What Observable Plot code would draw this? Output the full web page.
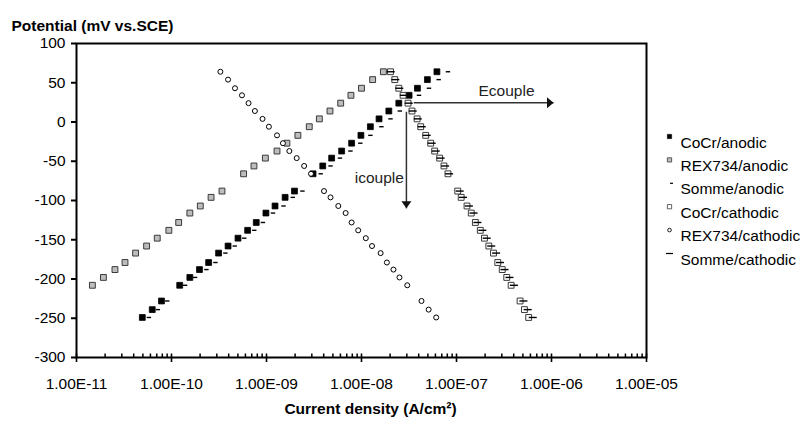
<!DOCTYPE html>
<html><head><meta charset="utf-8">
<script src="https://cdn.jsdelivr.net/npm/d3@7"></script>
<script src="https://cdn.jsdelivr.net/npm/@observablehq/plot@0.6"></script>
<style>html,body{margin:0;padding:0;background:#fff}</style>
</head><body><div id="chart"></div>
<script>
// Potentials (mV vs SCE), shared by all series (top to bottom)
const potential = [64, 54, 43, 34, 24, 14, 4, -6, -17, -27, -37, -46, -56, -66, -88, -96, -107, -116, -128, -138, -148, -158, -167, -179, -188, -198, -208, -228, -239, -249];

// Current densities (A/cm2)
const cocrAnodic = [6.22e-8, 4.94e-8, 3.88e-8, 3.17e-8, 2.47e-8, 1.94e-8, 1.53e-8, 1.24e-8, 9.86e-9, 7.87e-9, 6.18e-9, 4.85e-9, 3.91e-9, 3.09e-9, 1.97e-9, 1.57e-9, 1.23e-9, 9.86e-10, 7.80e-10, 6.33e-10, 5.01e-10, 3.94e-10, 3.13e-10, 2.46e-10, 1.97e-10, 1.56e-10, 1.22e-10, 7.85e-11, 6.27e-11, 4.93e-11];
const rexAnodic = [1.70e-8, 1.31e-8, 1.00e-8, 7.74e-9, 6.04e-9, 4.66e-9, 3.60e-9, 2.82e-9, 2.14e-9, 1.64e-9, 1.29e-9, 9.73e-10, 7.38e-10, 5.74e-10, 3.40e-10, 2.61e-10, 2.01e-10, 1.56e-10, 1.19e-10, 9.38e-11, 7.08e-11, 5.47e-11, 4.19e-11, 3.24e-11, 2.54e-11, 1.92e-11, 1.47e-11, null, null, null];
const sommeAnodic = [8.13e-8, 6.49e-8, 5.13e-8, 4.03e-8, 3.18e-8, 2.53e-8, 2.02e-8, 1.62e-8, 1.24e-8, 9.72e-9, 7.65e-9, 5.93e-9, 4.72e-9, 3.72e-9, 2.39e-9, 1.89e-9, 1.51e-9, 1.17e-9, 9.16e-10, 7.43e-10, 5.83e-10, 4.63e-10, 3.69e-10, 2.90e-10, 2.33e-10, 1.77e-10, 1.39e-10, 9.02e-11, 7.18e-11, 5.78e-11];
const cocrCathodic = [2.02e-8, 2.24e-8, 2.47e-8, 2.74e-8, 3.09e-8, 3.40e-8, 3.85e-8, 4.20e-8, 4.74e-8, 5.35e-8, 5.89e-8, 6.65e-8, 7.38e-8, 8.13e-8, 1.03e-7, 1.12e-7, 1.29e-7, 1.43e-7, 1.58e-7, 1.78e-7, 1.97e-7, 2.19e-7, 2.45e-7, 2.72e-7, 3.03e-7, 3.38e-7, 3.76e-7, 4.67e-7, 5.19e-7, 5.75e-7];
const rexCathodic = [3.27e-10, 3.94e-10, 4.66e-10, 5.52e-10, 6.47e-10, 7.55e-10, 9.08e-10, 1.06e-9, 1.29e-9, 1.49e-9, 1.74e-9, 2.08e-9, 2.49e-9, 2.94e-9, 4.03e-9, 4.72e-9, 5.70e-9, 6.81e-9, 7.87e-9, 9.23e-9, 1.11e-8, 1.29e-8, 1.59e-8, 1.85e-8, 2.17e-8, 2.51e-8, 3.03e-8, 4.28e-8, 5.09e-8, 6.11e-8];
const sommeCathodic = [2.03e-8, 2.27e-8, 2.50e-8, 2.79e-8, 3.14e-8, 3.46e-8, 3.91e-8, 4.31e-8, 4.85e-8, 5.48e-8, 6.04e-8, 6.81e-8, 7.59e-8, 8.36e-8, 1.08e-7, 1.17e-7, 1.35e-7, 1.51e-7, 1.66e-7, 1.87e-7, 2.08e-7, 2.32e-7, 2.61e-7, 2.87e-7, 3.20e-7, 3.61e-7, 4.02e-7, 5.06e-7, 5.61e-7, 6.34e-7];

const seriesNames = ["CoCr/anodic", "REX734/anodic", "Somme/anodic", "CoCr/cathodic", "REX734/cathodic", "Somme/cathodic"];

// Axes
const xTicks = [1e-11, 1e-10, 1e-9, 1e-8, 1e-7, 1e-6, 1e-5];
const xTickLabels = ["1.00E-11", "1.00E-10", "1.00E-09", "1.00E-08", "1.00E-07", "1.00E-06", "1.00E-05"];
const yTicks = [100, 50, 0, -50, -100, -150, -200, -250, -300];
const titleText = "Potential (mV vs.SCE)";
const xLabelText = "Current density (A/cm²)";

// Annotations (current, potential)
const arrowLabels = ["Ecouple", "icouple"];
const arrowStartI = [3.55e-8, 2.97e-8];
const arrowStartE = [24.4, 13];
const arrowEndI = [1.05e-6, 2.97e-8];
const arrowEndE = [24.4, -110];
const labelI = [3.36e-7, 1.54e-8];
const labelE = [39.7, -71.8];

// ---- build ----
const rows = (arr) => potential.map((E, i) => ({E, I: arr[i]})).filter(d => d.I != null);
const xMinor = xTicks.slice(0, -1).flatMap(d => [2,3,4,5,6,7,8,9].map(k => d * k));

const pathSym = (pts, close) => ({draw(ctx) {
  ctx.moveTo(pts[0][0], pts[0][1]);
  for (const p of pts.slice(1)) ctx.lineTo(p[0], p[1]);
  if (close) ctx.closePath();
}});
const dashShort = pathSym([[-2.2, 0], [2.2, 0]]);
const dashLong = pathSym([[-4, 0], [4, 0]]);
const legendDashShort = pathSym([[-1.5, 0], [1.5, 0]]);
const legendDashLong = pathSym([[-3.5, 0], [3.5, 0]]);
const headRight = pathSym([[0, 0], [-6.5, -5.5], [-6.5, 5.5]], true);
const headDown = pathSym([[0, 0], [-5, -7], [5, -7]], true);

const styles = [
  {symbol: "square", r: 3.3, fill: "#000", stroke: "#000", strokeWidth: 0.8},
  {symbol: "square", r: 3.3, fill: "#bdbdbd", stroke: "#3a3a3a", strokeWidth: 1},
  {symbol: dashShort, fill: "none", stroke: "#000", strokeWidth: 1.4},
  {symbol: "square", r: 3.3, fill: "#fff", stroke: "#3a3a3a", strokeWidth: 1},
  {symbol: "circle", r: 2.5, fill: "#fff", stroke: "#000", strokeWidth: 1},
  {symbol: dashLong, fill: "none", stroke: "#000", strokeWidth: 1.4}
];
const legendStyles = [
  {symbol: "square", r: 2.4, fill: "#000", stroke: "#000", strokeWidth: 0.6, dx: 23},
  {symbol: "square", r: 2.4, fill: "#bdbdbd", stroke: "#3a3a3a", strokeWidth: 0.8, dx: 23},
  {symbol: legendDashShort, fill: "none", stroke: "#000", strokeWidth: 1.2, dx: 25},
  {symbol: "square", r: 2.4, fill: "#fff", stroke: "#3a3a3a", strokeWidth: 0.8, dx: 23},
  {symbol: "circle", r: 1.8, fill: "#fff", stroke: "#000", strokeWidth: 0.9, dx: 23},
  {symbol: legendDashLong, fill: "none", stroke: "#000", strokeWidth: 1.2, dx: 23}
];
const seriesData = [cocrAnodic, rexAnodic, sommeAnodic, cocrCathodic, rexCathodic, sommeCathodic];

const arrows = arrowLabels.map((t, i) => ({t, x1: arrowStartI[i], y1: arrowStartE[i], x2: arrowEndI[i], y2: arrowEndE[i], lx: labelI[i], ly: labelE[i]}));

const legendMarks = seriesNames.flatMap((name, i) => [
  Plot.dot([name], {frameAnchor: "top-right", dy: 93 + i * 23.4, ...legendStyles[i]}),
  Plot.text([name], {frameAnchor: "top-right", dx: 34, dy: 93 + i * 23.4, text: d => d, textAnchor: "start", fill: "#000"})
]);

const chart = Plot.plot({
  width: 803, height: 421,
  marginTop: 43, marginBottom: 64, marginLeft: 76, marginRight: 157,
  style: {fontFamily: "'Liberation Sans', Arial, sans-serif", fontSize: "15.5px", color: "#000", background: "#fff", overflow: "visible"},
  x: {type: "log", domain: [1e-11, 1e-5]},
  y: {domain: [-300, 100]},
  marks: [
    Plot.axisY(yTicks, {tickSize: 5, tickPadding: 6, strokeWidth: 2, tickFormat: d => String(d), label: null}),
    Plot.axisX(xTicks, {tickSize: 5, tickPadding: 15, strokeWidth: 1.6, tickFormat: d => xTickLabels[xTicks.indexOf(d)], label: null}),
    Plot.tickX(xMinor, {x: d => d, insetTop: 310.5, stroke: "#000", strokeWidth: 1.5}),
    Plot.tickX(xTicks, {x: d => d, insetTop: 310.5, stroke: "#000", strokeWidth: 1.6}),
    Plot.frame({stroke: "#000", strokeWidth: 2}),
    ...seriesData.map((arr, i) => Plot.dot(rows(arr), {x: "I", y: "E", ...styles[i]})),
    Plot.link(arrows, {x1: "x1", y1: "y1", x2: "x2", y2: "y2", stroke: "#333", strokeWidth: 1.5}),
    Plot.dot(arrows.slice(0, 1), {x: "x2", y: "y2", symbol: headRight, fill: "#111", stroke: "none"}),
    Plot.dot(arrows.slice(1, 2), {x: "x2", y: "y2", symbol: headDown, fill: "#111", stroke: "none"}),
    Plot.text(arrows, {x: "lx", y: "ly", text: "t", fill: "#222"}),
    Plot.text([titleText], {frameAnchor: "top-left", dx: -65, dy: -24, text: d => d, textAnchor: "start", fontWeight: "bold", fill: "#000"}),
    Plot.text([xLabelText], {frameAnchor: "bottom", dx: 9, dy: 56, text: d => d, fontWeight: "bold", fill: "#000"}),
    ...legendMarks
  ]
});
document.getElementById("chart").appendChild(chart);
</script>
</body></html>
